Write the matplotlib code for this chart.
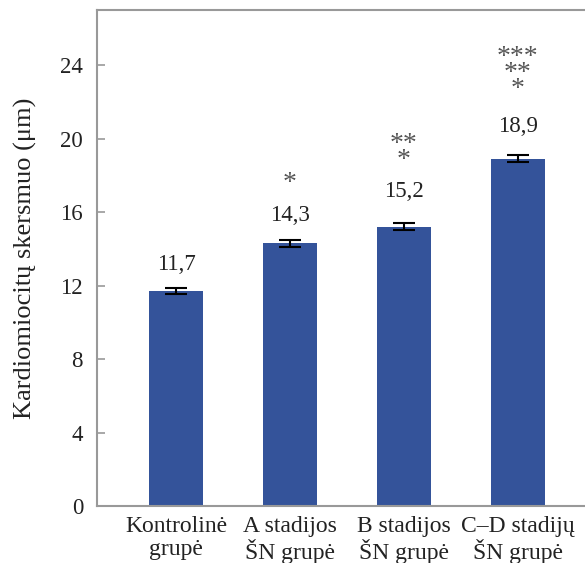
import matplotlib
matplotlib.use("Agg")
import matplotlib.pyplot as plt

categories = ["Kontrolinė\ngrupė", "A stadijos\nŠN grupė", "B stadijos\nŠN grupė", "C–D stadijų\nŠN grupė"]
values = [11.7, 14.3, 15.2, 18.9]
errors = [0.15, 0.2, 0.2, 0.2]
value_labels = ["11,7", "14,3", "15,2", "18,9"]
stars = ["", "*", "**\n*", "***\n**\n*"]
yticks = [0, 4, 8, 12, 16, 20, 24]

plt.rcParams['font.family'] = ['Liberation Serif', 'DejaVu Serif']

fig = plt.figure(figsize=(5.85, 5.63), dpi=100)
ax = fig.add_axes([0.1658, 0.1012, 0.8342, 0.881])

x = list(range(len(values)))
ax.bar(x, values, width=0.47, color="#34539a", zorder=2)
ax.errorbar(x, values, yerr=errors, fmt="none", ecolor="black", elinewidth=1.5,
            capsize=8, capthick=1.5, zorder=3)

label_off = [27, 28, 35, 32]
star_off = [0, 47, 54, 57]
for i, v in enumerate(values):
    ax.annotate(value_labels[i], (i, v), xytext=(0, label_off[i] * 0.72), textcoords="offset points",
                ha="center", va="center", fontsize=16.5, color="#222222")
    if stars[i]:
        ax.annotate(stars[i], (i, v), xytext=(0, star_off[i] * 0.72), textcoords="offset points",
                    ha="center", va="bottom", fontsize=20, color="#555555", linespacing=0.52)

ax.set_xlim(-0.693, 3.59)
ax.set_ylim(0, 27)
ax.set_yticks(yticks)
ax.set_yticklabels([str(t) for t in yticks], fontsize=16.5, color="#222222")
ax.set_xticks(x)
ax.set_xticklabels(categories, fontsize=17, color="#222222", linespacing=1.08)
ax.tick_params(axis="x", length=0, pad=7.5)
ax.tick_params(axis="y", direction="in", length=6, color="#999999", width=1.2, pad=10)
ax.set_ylabel("Kardiomiocitų skersmuo (μm)", fontsize=19, color="#222222", labelpad=17)

for s in ["left", "top", "bottom"]:
    ax.spines[s].set_color("#999999")
    ax.spines[s].set_linewidth(1.5)
ax.spines["right"].set_visible(False)

fig.savefig("out.png", dpi=100)
